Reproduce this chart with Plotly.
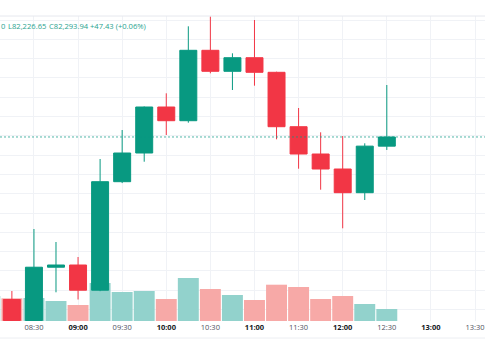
import plotly.graph_objects as go

# ---- data ----
day = "2025-01-01 "
times = ["08:00", "08:15", "08:30", "08:45", "09:00", "09:15", "09:30", "09:45",
         "10:00", "10:15", "10:30", "10:45", "11:00", "11:15", "11:30", "11:45",
         "12:00", "12:15", "12:30"]
opens = [81380.0, 81451.9, 81343.1, 81619.2, 81630.6, 81500.0, 82062.2, 82210.9,
         82449.2, 82378.2, 82743.0, 82634.2, 82704.6, 82629.0, 82347.1, 82205.7,
         82128.0, 82005.2, 82246.51]
highs = [81734.2, 81495.9, 81817.1, 81749.8, 81672.1, 82179.8, 82330.0, 82452.0,
         82520.2, 82867.3, 82918.0, 82727.4, 82900.0, 82632.0, 82444.0, 82318.1,
         82299.0, 82261.1, 82563.2]
lows = [81340.0, 81330.0, 81330.0, 81489.2, 81451.9, 81495.0, 82055.0, 82165.8,
        82304.1, 82367.9, 82623.8, 82537.3, 82559.6, 82281.9, 82129.5, 82020.7,
        81820.8, 81967.4, 82226.65]
closes = [81451.9, 81343.1, 81619.2, 81630.6, 81500.0, 82062.2, 82210.9, 82449.2,
          82378.2, 82743.0, 82634.2, 82704.6, 82629.0, 82347.1, 82205.7, 82128.0,
          82005.2, 82246.51, 82293.94]
volumes = [250, 227, 230, 200, 160, 380, 290, 300, 220, 430, 320, 260, 210, 363,
           340, 220, 250, 170, 120]
tick_times = ["08:30", "09:00", "09:30", "10:00", "10:30", "11:00", "11:30",
              "12:00", "12:30", "13:00", "13:30"]

UP = "#089981"
DOWN = "#F23645"
UP_VOL = "#92D2CC"
DOWN_VOL = "#F7A9A7"

x = [day + t for t in times]
vol_colors = [UP_VOL if c >= o else DOWN_VOL for o, c in zip(opens, closes)]

fig = go.Figure()
fig.add_trace(go.Bar(x=x, y=volumes, marker=dict(color=vol_colors, line=dict(width=0)),
                     yaxis="y", hoverinfo="skip", showlegend=False))
fig.add_trace(go.Candlestick(
    x=x, open=opens, high=highs, low=lows, close=closes, yaxis="y2",
    increasing=dict(line=dict(color=UP, width=1), fillcolor=UP),
    decreasing=dict(line=dict(color=DOWN, width=1), fillcolor=DOWN),
    whiskerwidth=0, showlegend=False))

ticktext = [("<b>%s</b>" % t) if t.endswith(":00")
            else "<span style='color:#50535e'>%s</span>" % t for t in tick_times]

last_o, last_h, last_l, last_c = opens[-1], highs[-1], lows[-1], closes[-1]
chg = last_c - last_o
pct = chg / last_o * 100

font = "Open Sans, Roboto, sans-serif"
pieces = ["0", "L{:,.2f}".format(last_l), "C{:,.2f}".format(last_c),
          "{:+.2f} ({:+.2f}%)".format(chg, pct)]
piece_x = [0, 7.3, 48.3, 89.3]
annotations = [dict(text=p, xref="paper", yref="paper", x=px / 485.0, y=(321 - 26) / 305.0,
                    xanchor="left", yanchor="middle", showarrow=False, borderpad=0,
                    font=dict(family=font, size=7.6, color="#2aa38f"))
               for p, px in zip(pieces, piece_x)]

shapes = [
    dict(type="line", xref="paper", yref="y2", x0=0, x1=1, y0=last_c, y1=last_c,
         line=dict(color="rgba(8,153,129,0.7)", width=1, dash="2px,2px")),
    dict(type="line", xref="paper", yref="paper", x0=0, x1=1, y0=1, y1=1,
         line=dict(color="#e6e8ee", width=1)),
    dict(type="line", xref="paper", yref="paper", x0=0, x1=1, y0=-17 / 305.0, y1=-17 / 305.0,
         line=dict(color="#eceef2", width=1)),
]

fig.update_layout(
    width=485, height=360,
    margin=dict(l=0, r=0, t=16, b=39),
    paper_bgcolor="white", plot_bgcolor="white",
    bargap=0.05, boxgap=0.23, boxgroupgap=0,
    xaxis=dict(type="date", range=[day + "08:06:55", day + "13:36:47"],
               rangeslider=dict(visible=False),
               tickvals=[day + t for t in tick_times], ticktext=ticktext,
               showgrid=True, gridcolor="#f0f2f6", gridwidth=1,
               ticks="", showline=False, zeroline=False,
               tickfont=dict(family=font, size=7.5, color="#131722")),
    yaxis=dict(range=[0, 3050], showgrid=False, showticklabels=False,
               zeroline=False, fixedrange=True),
    yaxis2=dict(overlaying="y", range=[81340.5, 82920.7], showgrid=True,
                gridcolor="#f0f2f6", gridwidth=1, dtick=100, tick0=0,
                showticklabels=False, zeroline=False, side="right"),
    annotations=annotations, shapes=shapes,
)

fig.write_html("out.html", config={"displayModeBar": False},
               post_script="document.body.style.margin='0px';document.body.style.overflow='hidden';")
